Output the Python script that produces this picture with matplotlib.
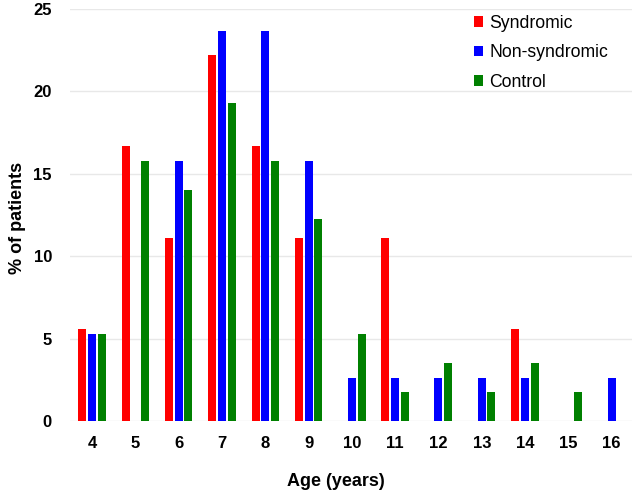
import numpy as np
import matplotlib
matplotlib.use("Agg")
import matplotlib.pyplot as plt

plt.rcParams['font.family'] = ['Liberation Sans', 'DejaVu Sans']

ages = [4, 5, 6, 7, 8, 9, 10, 11, 12, 13, 14, 15, 16]
syndromic = [5.56, 16.67, 11.11, 22.22, 16.67, 11.11, 0, 11.11, 0, 0, 5.56, 0, 0]
non_syndromic = [5.26, 0, 15.79, 23.68, 23.68, 15.79, 2.63, 2.63, 2.63, 2.63, 2.63, 0, 2.63]
control = [5.26, 15.79, 14.04, 19.30, 15.79, 12.28, 5.26, 1.75, 3.51, 1.75, 3.51, 1.75, 0]

series = [("Syndromic", syndromic, "#ff0000"),
          ("Non-syndromic", non_syndromic, "#0000ff"),
          ("Control", control, "#008000")]

fig = plt.figure(figsize=(6.37, 4.94), dpi=100)
ax = fig.add_axes([70 / 637, 1 - 421 / 494, 562 / 637, 412 / 494])

x = np.array(ages, dtype=float)
w = 0.185
step = 0.224
for i, (name, vals, col) in enumerate(series):
    ax.bar(x + (i - 1) * step, vals, width=w, color=col, label=name, zorder=3)

ax.set_xlim(3.49, 16.47)
ax.set_ylim(0, 25)
ax.set_yticks([0, 5, 10, 15, 20, 25])
ax.set_xticks(ages)
ax.set_xticklabels([str(a) for a in ages])
ax.tick_params(axis='both', length=0, labelsize=12)
ax.tick_params(axis='x', pad=11)
ax.tick_params(axis='y', pad=13)
for lab in ax.get_xticklabels() + ax.get_yticklabels():
    lab.set_fontweight('bold')
ax.grid(axis='y', color='#e8e8e8', linewidth=1, zorder=0)
for s in ax.spines.values():
    s.set_visible(False)

fig.text(18 / 637, 1 - 218 / 494, "% of patients", fontsize=13, fontweight='bold',
         rotation=90, ha='center', va='center')
fig.text(336 / 637, 1 - 481 / 494, "Age (years)", fontsize=13, fontweight='bold',
         ha='center', va='center')

ax.legend(loc='upper left', bbox_to_anchor=(0.69, 1.025), frameon=False,
          fontsize=12.7, handlelength=0.55, handleheight=0.55, handletextpad=0.35,
          labelspacing=0.72)

fig.savefig("out.png", dpi=100)
